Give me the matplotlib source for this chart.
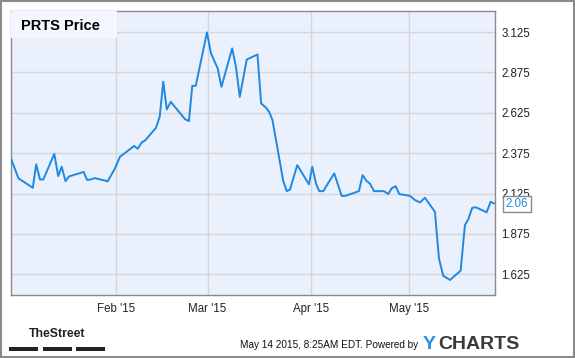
import matplotlib.pyplot as plt
from matplotlib.patches import Rectangle

# x = days since Jan 1 2015, y = share price
days = [0.15, 2.35, 6.66, 7.68, 8.83, 9.82, 13.13, 14.31, 15.36, 16.51,
        17.56, 21.99, 22.98, 24.19, 25.33, 29.22, 31.42, 32.92, 37.20, 38.25,
        39.46, 40.45, 43.77, 44.88, 45.96, 47.02, 48.22, 52.50, 53.70, 54.70,
        55.75, 59.13, 60.33, 62.35, 63.49, 66.72, 67.86, 69.01, 71.11, 74.34,
        75.45, 76.84, 77.86, 78.86, 82.11, 83.16, 84.13, 86.33, 89.85, 90.84,
        91.96, 92.95, 94.16, 97.47, 99.70, 100.90, 104.91, 106.02, 107.23, 108.22,
        109.43, 112.44, 113.73, 114.76, 115.96, 117.05, 120.27, 121.78, 123.28, 124.79,
        127.80, 129.01, 130.30, 132.32, 135.54, 136.84, 137.83, 139.04, 140.15, 143.37,
        144.58, 145.57]
price = [2.338, 2.219, 2.161, 2.306, 2.212, 2.212, 2.371, 2.233, 2.291, 2.202,
         2.231, 2.259, 2.210, 2.212, 2.221, 2.201, 2.281, 2.353, 2.420, 2.402,
         2.442, 2.453, 2.532, 2.600, 2.817, 2.646, 2.693, 2.586, 2.574, 2.792,
         2.792, 3.123, 2.993, 2.900, 2.786, 3.024, 2.910, 2.724, 2.955, 2.986,
         2.683, 2.658, 2.631, 2.580, 2.202, 2.140, 2.150, 2.301, 2.182, 2.291,
         2.188, 2.140, 2.140, 2.250, 2.111, 2.111, 2.140, 2.239, 2.202, 2.187,
         2.140, 2.140, 2.122, 2.157, 2.171, 2.122, 2.111, 2.085, 2.070, 2.099,
         2.012, 1.724, 1.616, 1.590, 1.647, 1.930, 1.965, 2.037, 2.040, 2.009,
         2.074, 2.064]

month_pos = [31.8, 59.3, 90.4, 120.0]
month_labels = ["Feb '15", "Mar '15", "Apr '15", "May '15"]
y_ticks = [1.625, 1.875, 2.125, 2.375, 2.625, 2.875, 3.125]
last_value = 2.06

plt.rcParams['font.family'] = ['Liberation Sans', 'DejaVu Sans']

fig = plt.figure(figsize=(5.75, 3.58), dpi=100)
fig.patch.set_facecolor('white')
fig.patches.append(Rectangle((0.001, 0.002), 0.997, 0.995, transform=fig.transFigure,
                             fill=False, edgecolor='#8a8a8a', linewidth=1.5))

ax = fig.add_axes([0.0186, 0.176, 0.8417, 0.794])
ax.set_facecolor('#eaf1fc')
ax.plot(days, price, color='#1e88e5', linewidth=1.4, zorder=3)

ax.set_xlim(0, 145.8)
ax.set_ylim(1.497, 3.257)
ax.set_xticks(month_pos)
ax.set_xticklabels(month_labels)
ax.set_yticks(y_ticks)
ax.set_yticklabels(['%.3f' % v for v in y_ticks])
ax.yaxis.tick_right()
ax.tick_params(length=0, labelsize=8.3, colors='#222222')
ax.tick_params(axis='x', pad=6)
ax.tick_params(axis='y', pad=5)
ax.grid(True, color='#d4d6da', linewidth=1)
ax.set_axisbelow(True)
for s in ax.spines.values():
    s.set_color('#8a8a8a')
    s.set_linewidth(1)

# title box
ax.text(0.022, 0.948, 'PRTS Price', transform=ax.transAxes, fontsize=10.5,
        fontweight='bold', color='black', va='center', ha='left', zorder=5)
ax.add_patch(Rectangle((0.0, 0.905), 0.22, 0.095, transform=ax.transAxes,
                       facecolor='#f3f7fe', edgecolor='none', zorder=4))

# last value tag
ax.annotate('%.2f' % last_value, xy=(1.0, last_value), xycoords=('axes fraction', 'data'),
            xytext=(8, 0), textcoords='offset points', va='center', ha='left',
            fontsize=8.3, color='#1e88e5', annotation_clip=False, zorder=10,
            bbox=dict(boxstyle='square,pad=0.2', fc='white', ec='#8a8a8a', lw=1))

# footer
fig.text(0.1, 0.067, 'TheStreet', fontsize=8.8, fontweight='bold', color='#222222',
         ha='center', va='center')
for x0 in [0.016, 0.075, 0.132]:
    fig.patches.append(Rectangle((x0, 0.02), 0.05, 0.012, transform=fig.transFigure,
                                 facecolor='#222222', edgecolor='none'))
fig.text(0.727, 0.035, 'May 14 2015, 8:25AM EDT. Powered by', fontsize=7.2,
         color='#111111', ha='right', va='center')
fig.text(0.735, 0.037, 'Y', fontsize=14, fontweight='bold', color='#2a8fe0',
         ha='left', va='center')
fig.text(0.762, 0.037, 'CHARTS', fontsize=14, fontweight='bold', color='#3a3a3a',
         ha='left', va='center')

fig.savefig('out.png', dpi=100)
